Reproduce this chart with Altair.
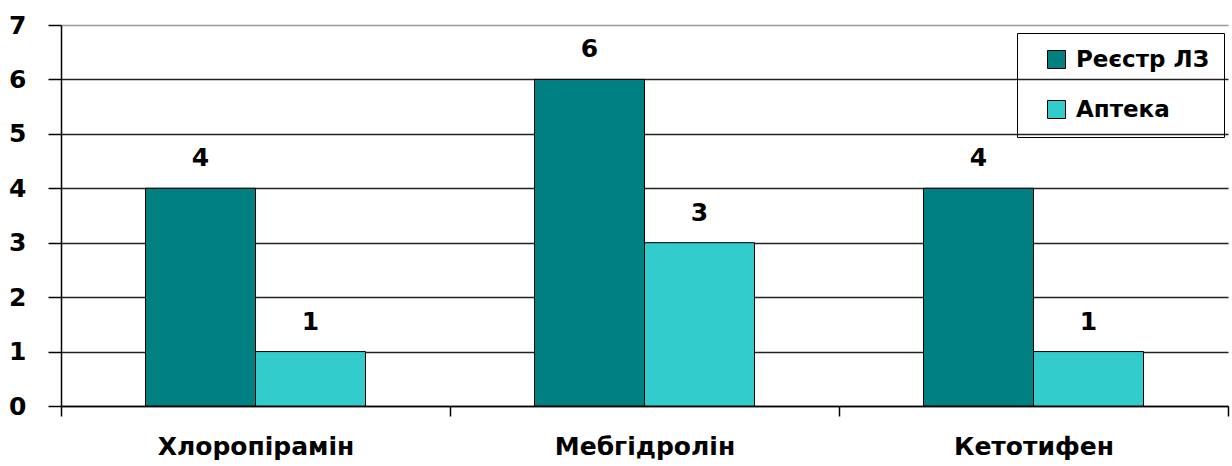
import altair as alt
import pandas as pd

categories = ["Хлоропірамін", "Мебгідролін", "Кетотифен"]
series = ["Реєстр ЛЗ", "Аптека"]
registry_values = [4, 6, 4]
pharmacy_values = [1, 3, 1]
colors = ["#008080", "#33CCCC"]

rows = []
for c, r, p in zip(categories, registry_values, pharmacy_values):
    rows.append({"drug": c, "series": series[0], "value": r})
    rows.append({"drug": c, "series": series[1], "value": p})
df = pd.DataFrame(rows)

FONT = "DejaVu Sans"
FS = 25

x = alt.X(
    "drug:N",
    sort=categories,
    title=None,
    scale=alt.Scale(paddingInner=0, paddingOuter=0),
    axis=alt.Axis(
        labelAngle=0,
        labelFont=FONT,
        labelFontSize=FS,
        labelFontWeight="bold",
        labelColor="#000",
        labelPadding=18,
        labelLimit=500,
        tickBand="extent",
        tickSize=10,
        tickColor="#000",
        tickWidth=1.5,
        domainColor="#000",
        domainWidth=1.5,
        grid=False,
    ),
)
xoff = alt.XOffset(
    "series:N",
    sort=series,
    scale=alt.Scale(paddingInner=0, paddingOuter=0.768),
)
y = alt.Y(
    "value:Q",
    title=None,
    scale=alt.Scale(domain=[0, 7], nice=False),
    axis=alt.Axis(
        values=[0, 1, 2, 3, 4, 5, 6, 7],
        format="d",
        labelFont=FONT,
        labelFontSize=FS,
        labelFontWeight="bold",
        labelColor="#000",
        labelPadding=22,
        ticks=True,
        tickSize=13,
        tickColor="#000",
        tickWidth=1.5,
        domainColor="#000",
        domainWidth=1.5,
        grid=True,
        gridColor={"condition": {"test": "datum.value == 7", "value": "#999999"}, "value": "#222222"},
        gridWidth=1.5,
    ),
)

bars = alt.Chart(df).mark_bar(stroke="#000", strokeWidth=1).encode(
    x=x,
    xOffset=xoff,
    y=y,
    color=alt.Color(
        "series:N",
        sort=series,
        scale=alt.Scale(domain=series, range=colors),
        legend=alt.Legend(
            title=None,
            orient="none",
            legendX=956,
            legendY=8,
            padding=15,
            symbolOffset=13,
            rowPadding=26,
            symbolType="square",
            symbolSize=324,
            symbolStrokeColor="#000",
            symbolStrokeWidth=1,
            labelFont=FONT,
            labelFontSize=23,
            labelFontWeight="bold",
            labelColor="#000",
            labelOffset=8,
            labelLimit=300,
            strokeColor="#000",
        ),
    ),
)

labels = alt.Chart(df).mark_text(
    font=FONT, fontSize=FS, fontWeight="bold", color="#000",
    baseline="alphabetic", dy=-22,
).encode(
    x=alt.X("drug:N", sort=categories),
    xOffset=alt.XOffset("series:N", sort=series),
    y="value:Q",
    text="value:Q",
)

chart = alt.layer(bars, labels).properties(
    width=1167,
    height=381,
    autosize=alt.AutoSizeParams(type="none"),
    padding={"left": 61, "top": 25, "right": 4, "bottom": 60},
    background="white",
).configure_view(stroke=None)

chart.save("out.html", embed_options={"renderer": "svg", "actions": False})
